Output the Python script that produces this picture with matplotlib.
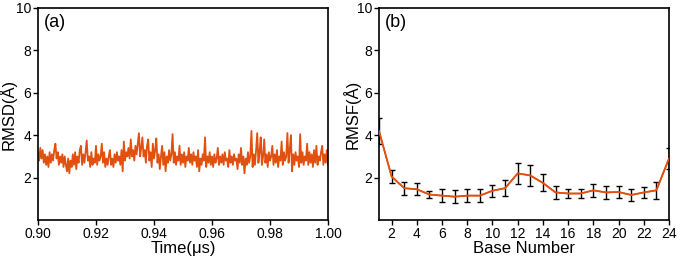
import numpy as np
import matplotlib
matplotlib.use("Agg")
import matplotlib.pyplot as plt

plt.rcParams['font.family'] = ['Liberation Sans', 'DejaVu Sans']

# ---- Panel (a): RMSD time series ----
t_start, t_end = 0.90, 1.00
rmsd = [
    3.2, 2.8, 3.4, 2.9, 3.3, 2.7, 3.1, 2.6, 3.0, 2.5,
    3.2, 2.7, 3.1, 2.8, 3.3, 3.6, 2.9, 3.2, 2.6, 3.0,
    2.7, 3.1, 2.5, 3.0, 2.6, 2.3, 2.9, 2.2, 2.8, 2.5,
    3.1, 2.6, 3.2, 2.4, 3.0, 2.7, 3.3, 3.5, 2.6, 3.1,
    2.7, 3.2, 3.75, 2.8, 3.0, 2.5, 3.2, 2.6, 2.9, 2.7,
    3.5, 2.6, 3.1, 2.8, 3.0, 3.6, 2.7, 3.2, 2.5, 2.9,
    2.6, 3.0, 3.3, 2.6, 2.9, 2.5, 3.1, 2.7, 3.2, 2.8,
    3.0, 2.6, 3.3, 2.3, 3.7, 2.8, 3.2, 3.0, 3.4, 2.9,
    3.8, 3.0, 3.3, 2.8, 3.5, 3.1, 3.6, 4.1, 3.0, 3.4,
    3.9, 3.0, 3.3, 2.7, 3.5, 3.8, 2.8, 3.2, 2.5, 3.6,
    2.9, 3.3, 3.85, 2.7, 3.1, 2.4, 3.0, 3.5, 2.6, 3.2,
    2.3, 3.0, 2.7, 3.3, 2.8, 3.1, 4.05, 2.7, 3.2, 2.6,
    3.0, 2.8, 3.5, 2.6, 3.1, 2.7, 3.2, 2.5, 3.0, 2.8,
    3.4, 2.7, 3.1, 2.6, 3.2, 2.8, 3.0, 2.5, 3.3, 2.3,
    2.9, 2.6, 3.1, 2.8, 3.9, 2.5, 3.0, 2.7, 3.2, 2.6,
    3.0, 2.5, 3.1, 2.7, 2.9, 3.4, 2.6, 3.0, 2.7, 3.1,
    2.6, 3.2, 2.8, 2.9, 2.5, 3.3, 2.7, 3.0, 2.6, 3.1,
    2.8, 2.9, 2.4, 3.1, 2.7, 3.4, 2.6, 3.0, 2.2, 2.9,
    2.6, 3.2, 2.7, 3.0, 4.2, 2.5, 3.1, 2.6, 3.3, 4.1,
    2.7, 3.2, 3.9, 2.6, 3.0, 3.8, 2.7, 3.1, 2.5, 3.2,
    2.8, 3.0, 3.5, 2.6, 3.1, 2.7, 3.3, 2.5, 3.0, 2.8,
    3.7, 2.6, 3.2, 2.8, 3.0, 4.1, 2.7, 3.3, 4.0, 2.3,
    3.1, 2.6, 3.2, 2.8, 3.0, 2.5, 4.05, 2.7, 3.2, 2.6,
    3.0, 2.8, 3.6, 2.6, 3.2, 2.7, 3.1, 2.5, 3.3, 2.7,
    3.5, 2.6, 3.0, 2.8, 3.2, 3.5, 2.6, 3.1, 2.7, 3.3,
    2.6,
]
time_us = np.linspace(t_start, t_end, len(rmsd))
xticks_a = [0.90, 0.92, 0.94, 0.96, 0.98, 1.00]
xticklabels_a = ["0.90", "0.92", "0.94", "0.96", "0.98", "1.00"]
yticks = [2, 4, 6, 8, 10]

# ---- Panel (b): RMSF per base ----
bases = list(range(1, 25))
rmsf = [4.2, 2.05, 1.5, 1.45, 1.2, 1.15, 1.1, 1.15, 1.15, 1.38, 1.5, 2.2,
        2.1, 1.75, 1.3, 1.25, 1.25, 1.4, 1.3, 1.32, 1.18, 1.3, 1.4, 2.9]
rmsf_err = [0.6, 0.32, 0.3, 0.28, 0.17, 0.3, 0.3, 0.3, 0.3, 0.28, 0.38, 0.5,
            0.5, 0.4, 0.3, 0.2, 0.2, 0.3, 0.3, 0.3, 0.3, 0.28, 0.4, 0.5]
xticks_b = list(range(2, 25, 2))

color = '#E2500F'

fig = plt.figure(figsize=(6.77, 2.58), dpi=100)
ax1 = fig.add_axes([38/677, 38/258, 290/677, 212/258])
ax2 = fig.add_axes([379/677, 38/258, 290/677, 212/258])

ax1.plot(time_us, rmsd, color=color, lw=1.3)
ax1.set_xlim(t_start, t_end)
ax1.set_ylim(0, 10)
ax1.set_xticks(xticks_a)
ax1.set_xticklabels(xticklabels_a)
ax1.set_yticks(yticks)
ax1.set_xlabel('Time(μs)', fontsize=12, labelpad=0)
ax1.set_ylabel('RMSD(Å)', fontsize=12)
ax1.yaxis.set_label_coords(-0.072, 0.5)
ax1.text(0.02, 0.97, '(a)', transform=ax1.transAxes, fontsize=13, va='top', ha='left')

ax2.errorbar(bases, rmsf, yerr=rmsf_err, color=color, lw=1.2,
             ecolor='black', elinewidth=1.0, capsize=2.5, capthick=1.0)
ax2.plot(bases, rmsf, color=color, lw=1.2, zorder=3)
ax2.set_xlim(1, 24)
ax2.set_ylim(0, 10)
ax2.set_xticks(xticks_b)
ax2.set_yticks(yticks)
ax2.set_xlabel('Base Number', fontsize=12, labelpad=0)
ax2.set_ylabel('RMSF(Å)', fontsize=12)
ax2.yaxis.set_label_coords(-0.062, 0.5)
ax2.text(0.02, 0.97, '(b)', transform=ax2.transAxes, fontsize=13, va='top', ha='left')

for ax in (ax1, ax2):
    ax.tick_params(direction='out', length=3.5, width=1.0, labelsize=10, pad=1.5)
    for s in ax.spines.values():
        s.set_linewidth(1.2)

fig.savefig('out.png', dpi=100)
